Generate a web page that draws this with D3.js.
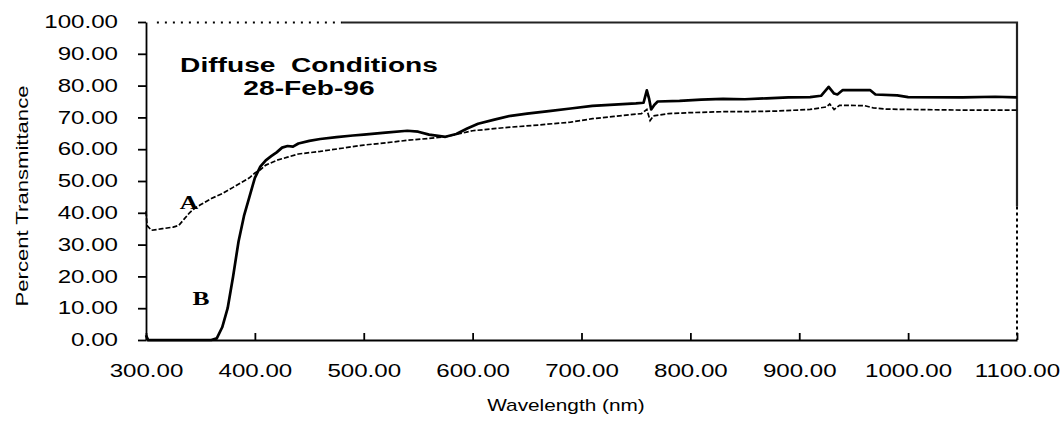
<!DOCTYPE html>
<html>
<head>
<meta charset="utf-8">
<script src="https://cdn.jsdelivr.net/npm/d3@7"></script>
<style>
  html, body { margin: 0; padding: 0; background: #fff; }
  svg { display: block; font-family: "Liberation Sans", Arial, sans-serif; }
</style>
</head>
<body>
<svg id="chart" width="1060" height="426"></svg>
<script>
// Wavelength (nm) and percent transmittance
const wavelengthA = [300, 301, 305, 315, 325, 330, 335, 340, 345, 350, 360, 370, 380, 390, 395, 400, 405, 410, 420, 430, 440, 460, 480, 500, 520, 540, 560, 575, 600, 630, 660, 690, 710, 730, 755, 760, 763, 766, 780, 800, 830, 850, 880, 910, 925, 928, 932, 937, 960, 968, 980, 1000, 1050, 1100];
const transA = [40.5, 36, 34.5, 35, 35.5, 36, 38, 40, 41.5, 42.5, 44.5, 46, 48, 50, 51, 52.5, 53.5, 55, 56.5, 57.5, 58.5, 59.3, 60.3, 61.3, 62, 62.8, 63.4, 63.9, 65.8, 66.8, 67.6, 68.5, 69.6, 70.3, 71.2, 72.5, 69, 70.5, 71.2, 71.5, 71.8, 71.8, 72, 72.5, 73.3, 74.2, 72.5, 73.8, 73.7, 73, 72.6, 72.5, 72.3, 72.3];

const wavelengthB = [300, 302, 360, 365, 370, 375, 380, 385, 390, 395, 400, 405, 410, 415, 420, 425, 430, 435, 440, 450, 460, 475, 490, 500, 520, 540, 550, 560, 575, 585, 595, 605, 620, 635, 650, 670, 690, 710, 730, 750, 757, 760, 762, 764, 767, 770, 790, 810, 830, 850, 870, 890, 910, 920, 927, 932, 935, 940, 965, 970, 990, 1000, 1050, 1080, 1100];
const transB = [1.5, 0, 0, 0.5, 4, 10, 20, 31, 39, 45, 51, 54.5, 56.5, 57.8, 59, 60.5, 61, 60.8, 61.8, 62.6, 63.2, 63.8, 64.3, 64.6, 65.2, 65.8, 65.5, 64.6, 63.9, 64.8, 66.5, 68, 69.3, 70.5, 71.2, 72, 72.8, 73.6, 74, 74.4, 74.6, 78.5, 76, 72.5, 74, 75, 75.2, 75.6, 75.8, 75.7, 76, 76.3, 76.4, 76.8, 79.6, 77.5, 77.2, 78.6, 78.6, 77.2, 76.9, 76.4, 76.3, 76.5, 76.3];

const xTicks = [300, 400, 500, 600, 700, 800, 900, 1000, 1100];
const yTicks = [0, 10, 20, 30, 40, 50, 60, 70, 80, 90, 100];

const titleLines = ['Diffuse  Conditions', '28-Feb-96'];

// the scan is stretched sideways, so text gets the same squash
const SX = 1.34;

const svg = d3.select('#chart');
const x = d3.scaleLinear().domain([300, 1100]).range([146, 1017]);
const y = d3.scaleLinear().domain([0, 100]).range([340, 22]);
const fmt = d3.format('.2f');

// frame border
const yTop = y(100), xRight = x(1100);
svg.append('path')
  .attr('d', `M${x(310)},${yTop + 0.5}H${x(480)}`)
  .attr('fill', 'none').attr('stroke', '#000').attr('stroke-width', 2)
  .attr('stroke-dasharray', '2,6');
svg.append('path')
  .attr('d', `M${x(480)},${yTop + 0.5}H${xRight}V${y(42)}`)
  .attr('fill', 'none').attr('stroke', '#222').attr('stroke-width', 2.2);
svg.append('path')
  .attr('d', `M${xRight},${y(42)}V${y(0)}`)
  .attr('fill', 'none').attr('stroke', '#000').attr('stroke-width', 2)
  .attr('stroke-dasharray', '3,3');

// x axis, ticks pointing up into the plot
const gx = svg.append('g')
  .attr('transform', `translate(0,${y(0)})`)
  .call(d3.axisBottom(x).tickValues(xTicks).tickFormat(fmt).tickSizeInner(-7).tickSizeOuter(0));
gx.selectAll('text')
  .attr('y', 24)
  .attr('dy', '0.71em')
  .attr('transform', `scale(${SX},1)`)
  .attr('font-size', '18px')
  .attr('fill', '#000');

// y axis, ticks pointing out
const gy = svg.append('g')
  .attr('transform', `translate(${x(300)},0)`)
  .call(d3.axisLeft(y).tickValues(yTicks).tickFormat(fmt).tickSizeInner(8).tickSizeOuter(0));
gy.selectAll('text')
  .attr('x', -28 / SX)
  .attr('transform', `scale(${SX},1)`)
  .attr('font-size', '18px')
  .attr('fill', '#000');

svg.selectAll('.domain, .tick line')
  .attr('stroke', '#000')
  .attr('stroke-width', 1.8);

// series
const line = d3.line().x(d => x(d[0])).y(d => y(d[1]));
const seriesA = d3.zip(wavelengthA, transA);
const seriesB = d3.zip(wavelengthB, transB);

svg.append('path')
  .attr('d', line(seriesA))
  .attr('fill', 'none')
  .attr('stroke', '#000')
  .attr('stroke-width', 1.7)
  .attr('stroke-dasharray', '5,2');

svg.append('path')
  .attr('d', line(seriesB))
  .attr('fill', 'none')
  .attr('stroke', '#000')
  .attr('stroke-width', 2.7)
  .attr('stroke-linejoin', 'round');

// curve letters
const letters = [
  { t: 'A', px: 189, py: 209 },
  { t: 'B', px: 201, py: 305 }
];
letters.forEach(l => {
  svg.append('text')
    .attr('transform', `translate(${l.px},${l.py}) scale(${SX},1)`)
    .attr('text-anchor', 'middle')
    .attr('font-family', '"Liberation Serif", "DejaVu Serif", serif')
    .attr('font-weight', 'bold')
    .attr('font-size', '19px')
    .text(l.t);
});

// title
titleLines.forEach((t, i) => {
  svg.append('text')
    .attr('transform', `translate(309,${72 + i * 23}) scale(${SX},1)`)
    .attr('text-anchor', 'middle')
    .attr('font-weight', 'bold')
    .attr('font-size', '21px')
    .style('white-space', 'pre')
    .text(t);
});

// axis titles
svg.append('text')
  .attr('transform', 'translate(566,411) scale(1.3,1)')
  .attr('text-anchor', 'middle')
  .attr('font-size', '16px')
  .text('Wavelength (nm)');

svg.append('text')
  .attr('transform', 'translate(28,196) rotate(-90) scale(1.3,1)')
  .attr('text-anchor', 'middle')
  .attr('font-size', '17px')
  .text('Percent Transmittance');
</script>
</body>
</html>
